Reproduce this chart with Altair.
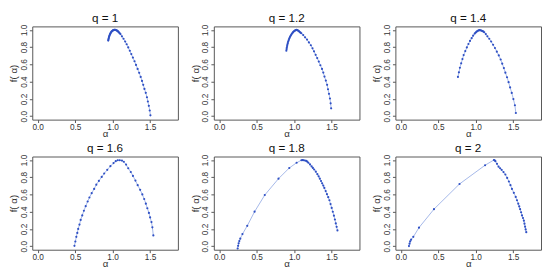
import altair as alt
import pandas as pd

q_labels = ["1", "1.2", "1.4", "1.6", "1.8", "2"]

alpha_q1 = [0.942, 0.944, 0.947, 0.950, 0.953, 0.957, 0.961, 0.966, 0.971, 0.977, 0.983, 0.990, 0.997,
            1.004, 1.012, 1.020, 1.028, 1.036, 1.044, 1.052, 1.060, 1.068, 1.076, 1.084, 1.094,
            1.105, 1.125, 1.146, 1.168, 1.188, 1.209, 1.230, 1.250, 1.271, 1.293, 1.313, 1.334, 1.355,
            1.375, 1.393, 1.409, 1.425, 1.443, 1.459, 1.471, 1.484, 1.496, 1.505]
f_q1 = [0.876, 0.886, 0.897, 0.908, 0.919, 0.930, 0.940, 0.950, 0.959, 0.968, 0.976, 0.983, 0.989,
        0.994, 0.997, 0.999, 1.000, 1.000, 0.998, 0.995, 0.991, 0.986, 0.979, 0.971, 0.962,
        0.951, 0.925, 0.897, 0.865, 0.833, 0.797, 0.758, 0.719, 0.679, 0.636, 0.594, 0.548, 0.502,
        0.455, 0.409, 0.363, 0.316, 0.270, 0.219, 0.170, 0.120, 0.066, 0.010]

alpha_q12 = [0.896, 0.899, 0.902, 0.906, 0.910, 0.915, 0.920, 0.926, 0.932, 0.939, 0.946, 0.953, 0.961,
             0.969, 0.977, 0.986, 0.994, 1.003, 1.012, 1.021, 1.030, 1.039, 1.048, 1.057, 1.066, 1.075,
             1.085, 1.096, 1.121, 1.146, 1.172, 1.197, 1.223, 1.245, 1.265, 1.287, 1.308, 1.329, 1.350,
             1.372, 1.389, 1.405, 1.423, 1.440, 1.452, 1.465, 1.478, 1.487, 1.494]
f_q12 = [0.758, 0.776, 0.794, 0.812, 0.829, 0.846, 0.862, 0.878, 0.893, 0.907, 0.920, 0.932, 0.943,
         0.954, 0.964, 0.973, 0.981, 0.988, 0.993, 0.997, 0.999, 0.998, 0.995, 0.990, 0.983, 0.975,
         0.968, 0.961, 0.940, 0.914, 0.887, 0.855, 0.822, 0.786, 0.751, 0.711, 0.673, 0.633, 0.590,
         0.548, 0.505, 0.459, 0.412, 0.363, 0.312, 0.259, 0.205, 0.149, 0.091]

alpha_q14 = [0.763, 0.776, 0.789, 0.806, 0.823, 0.839, 0.861, 0.882, 0.903, 0.924, 0.946, 0.966, 0.987,
             0.997, 1.008, 1.018, 1.029, 1.040, 1.051, 1.062, 1.072, 1.082, 1.092, 1.103, 1.114, 1.135,
             1.156, 1.181, 1.206, 1.232, 1.257, 1.282, 1.308, 1.333, 1.354, 1.376, 1.396, 1.418, 1.439,
             1.459, 1.481, 1.503, 1.523, 1.536]
f_q14 = [0.455, 0.508, 0.561, 0.612, 0.662, 0.708, 0.754, 0.797, 0.836, 0.872, 0.904, 0.933, 0.957,
         0.967, 0.976, 0.984, 0.990, 0.994, 0.997, 0.996, 0.993, 0.990, 0.986, 0.980, 0.972, 0.951,
         0.925, 0.897, 0.865, 0.828, 0.790, 0.747, 0.704, 0.657, 0.608, 0.557, 0.504, 0.451, 0.394,
         0.333, 0.269, 0.198, 0.127, 0.037]

alpha_q16 = [0.491, 0.503, 0.516, 0.529, 0.541, 0.558, 0.574, 0.595, 0.617, 0.641, 0.667, 0.691, 0.721,
             0.754, 0.783, 0.817, 0.855, 0.888, 0.929, 0.971, 1.013, 1.042, 1.068, 1.096, 1.125, 1.150,
             1.180, 1.209, 1.243, 1.272, 1.305, 1.335, 1.368, 1.397, 1.422, 1.444, 1.464, 1.485, 1.501,
             1.519, 1.531, 1.544]
f_q16 = [0.005, 0.055, 0.109, 0.155, 0.201, 0.251, 0.305, 0.358, 0.412, 0.465, 0.519, 0.565, 0.615,
         0.665, 0.714, 0.757, 0.804, 0.843, 0.886, 0.928, 0.964, 0.986, 0.997, 0.997, 0.993, 0.979,
         0.947, 0.904, 0.861, 0.815, 0.761, 0.708, 0.654, 0.601, 0.548, 0.494, 0.441, 0.387, 0.334,
         0.280, 0.219, 0.126]

alpha_q18 = [0.246, 0.252, 0.259, 0.268, 0.281, 0.310, 0.374, 0.472, 0.608, 0.791, 0.935, 1.033, 1.097,
             1.112, 1.126, 1.144, 1.161, 1.176, 1.190, 1.212, 1.233, 1.250, 1.267, 1.289, 1.310, 1.327,
             1.343, 1.359, 1.374, 1.389, 1.403, 1.421, 1.438, 1.455, 1.471, 1.486, 1.501, 1.516, 1.531,
             1.544, 1.556, 1.567, 1.578]
f_q18 = [-0.027, 0.005, 0.034, 0.060, 0.088, 0.141, 0.237, 0.401, 0.594, 0.783, 0.907, 0.968, 0.997,
         0.999, 0.997, 0.994, 0.989, 0.980, 0.968, 0.948, 0.925, 0.908, 0.890, 0.864, 0.836, 0.810,
         0.783, 0.756, 0.729, 0.703, 0.676, 0.640, 0.604, 0.569, 0.533, 0.489, 0.444, 0.400, 0.355,
         0.310, 0.265, 0.225, 0.184]

alpha_q2 = [0.109, 0.117, 0.125, 0.138, 0.167, 0.243, 0.443, 0.784, 1.125, 1.243, 1.253, 1.263, 1.284,
            1.305, 1.326, 1.346, 1.371, 1.396, 1.420, 1.443, 1.464, 1.484, 1.509, 1.534, 1.551, 1.568,
            1.581, 1.593, 1.606, 1.618, 1.631, 1.643, 1.651, 1.659, 1.667, 1.675]
f_q2 = [0.002, 0.030, 0.056, 0.077, 0.109, 0.216, 0.430, 0.722, 0.939, 1.000, 0.996, 0.986, 0.955,
        0.922, 0.904, 0.886, 0.860, 0.832, 0.792, 0.751, 0.708, 0.665, 0.619, 0.572, 0.533, 0.494,
        0.462, 0.430, 0.394, 0.358, 0.328, 0.297, 0.262, 0.227, 0.195, 0.163]

x_ticks = [0.0, 0.5, 1.0, 1.5]
y_ticks = [0.0, 0.2, 0.4, 0.6, 0.8, 1.0]

FONT = "Liberation Sans"
PT = "#2f50c4"
LN = "#7b97de"


def panel(a, f, q):
    df = pd.DataFrame({"alpha": a, "f": f, "i": list(range(len(a)))})
    x = alt.X("alpha:Q",
              scale=alt.Scale(domain=[-0.072, 1.872], nice=False, zero=False),
              axis=alt.Axis(values=x_ticks, format=".1f", title="α", labelFlush=False,
                            labelPadding=0, titlePadding=-2))
    y = alt.Y("f:Q",
              scale=alt.Scale(domain=[-0.04, 1.04], nice=False, zero=False),
              axis=alt.Axis(values=y_ticks, format=".1f", title="f( α)", labelAngle=270,
                            labelAlign="center", labelBaseline="bottom", labelFlush=False,
                            labelPadding=1, titlePadding=1))
    base = alt.Chart(df)
    line = base.mark_line(color=LN, strokeWidth=0.7, clip=True).encode(x=x, y=y, order="i:Q")
    pts = base.mark_circle(color=PT, size=5, opacity=1, clip=True).encode(x=x, y=y)
    return alt.layer(line, pts).properties(
        width=150, height=96,
        title=alt.TitleParams(f"q = {q}", anchor="middle", offset=-1))


panels = [
    panel(alpha_q1, f_q1, q_labels[0]),
    panel(alpha_q12, f_q12, q_labels[1]),
    panel(alpha_q14, f_q14, q_labels[2]),
    panel(alpha_q16, f_q16, q_labels[3]),
    panel(alpha_q18, f_q18, q_labels[4]),
    panel(alpha_q2, f_q2, q_labels[5]),
]

row1 = alt.hconcat(*panels[:3], spacing=11)
row2 = alt.hconcat(*panels[3:], spacing=11)
chart = alt.vconcat(row1, row2, spacing=3).properties(
    padding={"left": 0, "top": 0, "right": 0, "bottom": 0}
).configure_view(
    stroke="#555", strokeWidth=1
).configure_axis(
    grid=False, domain=False, tickColor="#555", tickSize=3,
    labelFont=FONT, labelFontSize=8.5, labelColor="#333",
    titleFont=FONT, titleFontSize=10, titleFontWeight="normal", titleColor="#333"
).configure_title(
    font=FONT, fontSize=12, fontWeight="normal", color="#111"
)

chart.save("out.html", embed_options={"renderer": "svg", "actions": False})
